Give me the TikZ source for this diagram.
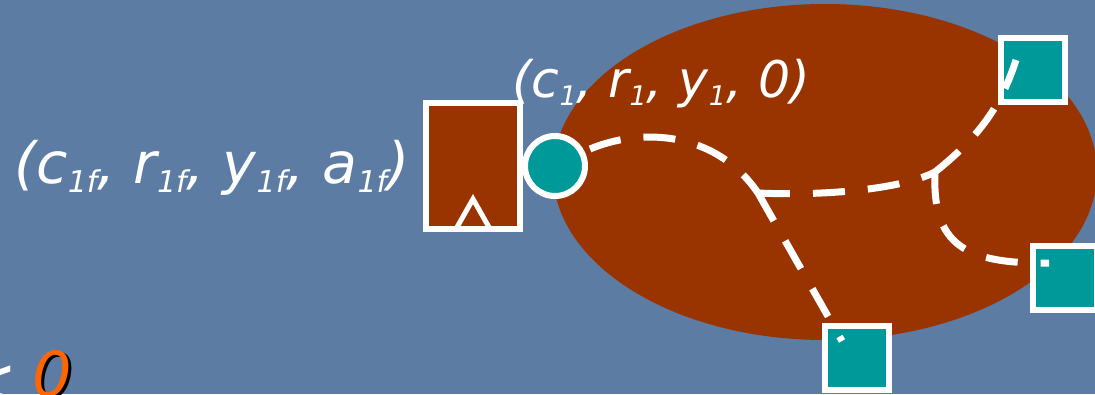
\documentclass[tikz,border=0pt]{standalone}
\usepackage{fontspec}
\setmainfont{DejaVu Sans}
\definecolor{bg}{RGB}{92,124,163}
\definecolor{rust}{RGB}{153,51,0}
\definecolor{tealc}{RGB}{0,153,153}
\definecolor{orng}{RGB}{255,102,0}
\newcommand{\sbx}[1]{\raisebox{-9pt}{\fontsize{30}{30}\selectfont #1}}
\newcommand{\sby}[1]{\raisebox{-8pt}{\fontsize{27}{27}\selectfont #1}}
\begin{document}
\begin{tikzpicture}[x=1pt,y=-1pt,
  lbl/.style={text=white,font=\fontsize{57}{60}\selectfont\itshape,inner sep=0pt,anchor=base west},
  lbs/.style={text=white,font=\fontsize{50.5}{55}\selectfont\itshape,inner sep=0pt,anchor=base west},
  sqbox/.style={draw=white,fill=tealc,line width=6pt,minimum size=64pt,inner sep=0pt},
  dsh/.style={draw=white,line width=7pt,dash pattern=on 32pt off 23pt}]
\useasboundingbox (0,0) rectangle (1095,394);
\begin{scope}
\clip (0,0) rectangle (1095,394);
\fill[bg] (0,0) rectangle (1095,394);
\fill[rust] (825,172) ellipse [x radius=272, y radius=168];
\node[lbl] (tl) at (14,183) {(c\sbx{1f}, r\sbx{1f}, y\sbx{1f}, a\sbx{1f})};
\node[lbs] (tt) at (512,97) {(c\sby{1}, r\sby{1}, y\sby{1}, 0)};
\node[draw=white,fill=rust,line width=6pt,minimum width=94pt,minimum height=126pt,inner sep=0pt] (L) at (473,166) {};
\draw[white,line width=5pt] ([xshift=-17pt,yshift=3pt]L.south) -- ([yshift=33pt]L.south) -- ([xshift=17pt,yshift=3pt]L.south);
\node[circle,draw=white,fill=tealc,line width=6pt,minimum size=60pt,inner sep=0pt] (C) at (555,166) {};
\node[sqbox] (S1) at (1033,69.5) {};
\node[sqbox] (S2) at (1065,278) {};
\node[sqbox] (S3) at (857,358) {};
\coordinate (J1) at (758,193);
\coordinate (J2) at (935,172);
\coordinate (E1) at (1016,60);
\coordinate (E2) at (1049,263);
\coordinate (E3) at (842,341);
\draw[dsh] (C.east) ++(2,-17) .. controls (640,128) and (715,130) .. (J1);
\draw[dsh] (J1) -- (E3);
\draw[dsh] (J1) .. controls (820,196) and (900,190) .. (J2);
\draw[dsh] (J2) .. controls (975,140) and (1000,110) .. (E1);
\draw[dsh] (J2) .. controls (932,245) and (965,264) .. (E2);
\node[text=black,font=\fontsize{62}{62}\selectfont\itshape,inner sep=0pt,anchor=base west] at (35,398) {0};
\node[text=orng,font=\fontsize{62}{62}\selectfont\itshape,inner sep=0pt,anchor=base west] (zero) at (32,396) {0};
\node[text=white,font=\fontsize{70}{70}\selectfont\itshape,inner sep=0pt,anchor=base east] (lt) at (18,406) {<};
\end{scope}
\end{tikzpicture}
\end{document}
